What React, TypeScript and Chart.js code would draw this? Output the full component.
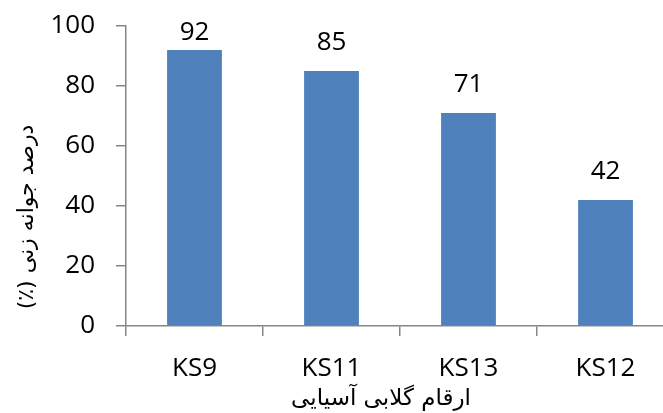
import React, { useEffect, useRef } from "react";
import { Chart, registerables } from "chart.js";

Chart.register(...registerables);

const categories = ["KS9", "KS11", "KS13", "KS12"];
const germination = [92, 85, 71, 42];
const yTicks = [0, 20, 40, 60, 80, 100];
const xTitle = "ارقام گلابی آسیایی";
const yTitle = "درصد جوانه زنی (٪)";

const BAR_COLOR = "#4F81BD";
const AXIS_COLOR = "#868686";

const titlesAndLabels = {
  id: "titlesAndLabels",
  afterDatasetsDraw(chart: any) {
    const ctx = chart.ctx;
    ctx.save();
    // data labels
    ctx.fillStyle = "#000";
    ctx.font = "26px 'Open Sans'";
    ctx.textAlign = "center";
    ctx.textBaseline = "middle";
    const meta = chart.getDatasetMeta(0);
    meta.data.forEach((bar: any, i: number) => {
      const y = Math.max(bar.y - 28, 33);
      ctx.fillText(String(germination[i]), bar.x, y);
    });
    // x title
    ctx.direction = "rtl";
    ctx.font = "23px 'DejaVu Sans'";
    ctx.fillText(xTitle, 381, 399);
    // y title
    ctx.translate(27, 217);
    ctx.rotate(-Math.PI / 2);
    ctx.font = "22px 'DejaVu Sans'";
    ctx.fillText(yTitle, 0, 0);
    ctx.restore();
  },
};

export default function App() {
  const ref = useRef<HTMLCanvasElement>(null);
  useEffect(() => {
    if (!ref.current) return;
    const chart = new Chart(ref.current, {
      type: "bar",
      data: {
        labels: categories,
        datasets: [
          {
            data: germination,
            backgroundColor: BAR_COLOR,
            borderWidth: 0,
            barPercentage: 0.8,
            categoryPercentage: 0.5,
          },
        ],
      },
      options: {
        responsive: false,
        animation: false,
        layout: { padding: { top: 26, right: 6, left: 0, bottom: 0 } },
        plugins: {
          legend: { display: false },
          tooltip: { enabled: false },
        },
        scales: {
          x: {
            grid: {
              display: true,
              drawOnChartArea: false,
              drawTicks: true,
              tickLength: 10,
              color: AXIS_COLOR,
              lineWidth: 1.5,
              offset: true,
            },
            border: { display: true, color: AXIS_COLOR, width: 1.5 },
            ticks: {
              color: "#000",
              font: { family: "'Open Sans'", size: 26 },
              padding: 17,
              maxRotation: 0,
            },
            afterFit(scale: any) {
              scale.height = 87;
              scale.paddingLeft = 0;
              scale.paddingRight = 0;
            },
          },
          y: {
            min: 0,
            max: 100,
            afterBuildTicks(scale: any) {
              scale.ticks = yTicks.map((v) => ({ value: v }));
            },
            grid: {
              display: true,
              drawOnChartArea: false,
              drawTicks: true,
              tickLength: 10,
              color: AXIS_COLOR,
              lineWidth: 1.5,
            },
            border: { display: true, color: AXIS_COLOR, width: 1.5 },
            ticks: {
              color: "#000",
              font: { family: "'Open Sans'", size: 26 },
              padding: 21,
            },
            afterFit(scale: any) {
              scale.width = 126;
              scale.paddingTop = 0;
              scale.paddingBottom = 0;
            },
          },
        },
      },
      plugins: [titlesAndLabels],
    });
    return () => chart.destroy();
  }, []);
  return (
    <div
      style={{
        position: "absolute",
        left: 0,
        top: 0,
        width: 663,
        height: 413,
        overflow: "hidden",
        background: "#fff",
      }}
    >
      <canvas
        ref={ref}
        width={680}
        height={413}
        style={{ width: 680, height: 413, display: "block" }}
      />
    </div>
  );
}
